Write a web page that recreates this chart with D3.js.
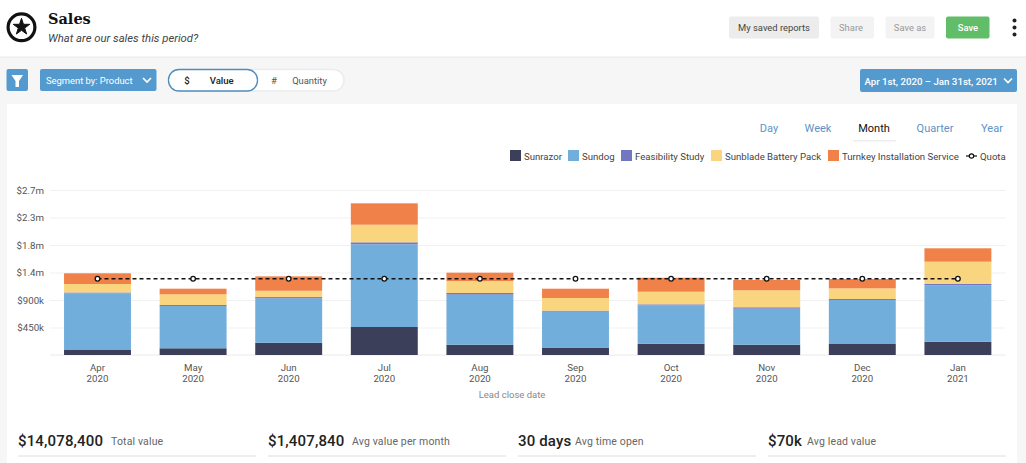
<!DOCTYPE html>
<meta charset="utf-8">
<style>
  html, body { margin: 0; padding: 0; background: #f6f6f6; overflow: hidden; }
  svg { display: block; font-family: Roboto, sans-serif; }
  .axis .domain { display: none; }
  .axis text { font-size: 9.7px; fill: #555; font-family: Roboto, sans-serif; }
</style>
<body>
<svg id="ChartArea" width="1026" height="463"></svg>
<script src="https://cdnjs.cloudflare.com/ajax/libs/d3/7.8.5/d3.min.js"></script>
<script>

  // Chart data, in $k
  var months = ["Apr", "May", "Jun", "Jul", "Aug", "Sep", "Oct", "Nov", "Dec", "Jan"];
  var years = ["2020", "2020", "2020", "2020", "2020", "2020", "2020", "2020", "2020", "2021"];
  var products = ["Sunrazor", "Sundog", "Feasibility Study", "Sunblade Battery Pack", "Turnkey Installation Service"];
  var sunrazor = [82, 110, 201, 458, 169, 115, 185, 169, 180, 218];
  var sundog = [928, 692, 726, 1353, 818, 594, 628, 589, 720, 923];
  var feasibility = [13, 16, 21, 33, 28, 16, 16, 23, 16, 21];
  var sunblade = [139, 175, 103, 288, 196, 208, 206, 278, 175, 365];
  var turnkey = [175, 92, 236, 350, 136, 152, 229, 169, 152, 219];
  var quota = [1248, 1248, 1248, 1248, 1248, 1248, 1248, 1248, 1248, 1248];
  var yTicks = [450, 900, 1350, 1800, 2250, 2700];
  var yTickLabels = ["$450k", "$900k", "$1.4m", "$1.8m", "$2.3m", "$2.7m"];
  var stats = ["$14,078,400", "$1,407,840", "30 days", "$70k"];
  var statLabels = ["Total value", "Avg value per month", "Avg time open", "Avg lead value"];
  var tabs = ["Day", "Week", "Month", "Quarter", "Year"];

  var colors = ["#3c3f5a", "#72aedb", "#7376c1", "#f8d57e", "#f08149"];
  var blue = "#559acf";

  var svg = d3.select("#ChartArea");

  function label(x, y, str, size, fill, anchor, weight, style) {
    return svg.append("text")
        .attr("x", x).attr("y", y)
        .attr("font-size", size)
        .attr("fill", fill || "#444")
        .attr("text-anchor", anchor || "start")
        .attr("font-weight", weight || 400)
        .attr("font-style", style || "normal")
        .text(str);
  }

  function box(x, y, w, h, fill, r) {
    return svg.append("rect")
        .attr("x", x).attr("y", y)
        .attr("width", w).attr("height", h)
        .attr("rx", r === undefined ? 2 : r)
        .attr("fill", fill);
  }

  function chevron(cx, cy) {
    svg.append("path")
        .attr("d", "M" + (cx - 4) + "," + (cy - 2) + "L" + cx + "," + (cy + 2) + "L" + (cx + 4) + "," + (cy - 2))
        .attr("fill", "none").attr("stroke", "#fff").attr("stroke-width", 1.7);
  }

  // Header
  box(0, 0, 1026, 56.5, "#fff", 0);
  box(0, 56.5, 1026, 1.5, "#eeeeee", 0);
  svg.append("circle").attr("cx", 21.5).attr("cy", 27.3).attr("r", 13.4)
      .attr("fill", "none").attr("stroke", "#111").attr("stroke-width", 3.2);
  svg.append("path")
      .attr("transform", "translate(21.5,27)")
      .attr("d", d3.symbol(d3.symbolStar, 85))
      .attr("fill", "#111").attr("stroke", "#111").attr("stroke-linejoin", "round");
  label(48, 24, "Sales", 14.5, "#111", "start", 700).attr("font-family", "DejaVu Serif");
  label(48, 42, "What are our sales this period?", 11.3, "#444", "start", 400, "italic");

  box(729, 16.5, 90, 22, "#ececec");
  label(774, 31, "My saved reports", 9.4, "#444", "middle");
  box(830.5, 16.5, 43.5, 22, "#f3f3f3");
  label(851, 31, "Share", 9.4, "#999", "middle");
  box(885.5, 16.5, 49, 22, "#f3f3f3");
  label(910, 31, "Save as", 9.4, "#999", "middle");
  box(946, 16.5, 43.5, 22, "#62bd69");
  label(968, 31, "Save", 9.4, "#fff", "middle", 500);
  svg.selectAll(".dot").data([20.5, 27.5, 34.5]).enter().append("circle")
      .attr("class", "dot").attr("cx", 1014.5).attr("cy", function (d) { return d; })
      .attr("r", 2).attr("fill", "#222");

  // Toolbar
  box(6.5, 69, 21.5, 22, blue);
  svg.append("path").attr("d", "M11.5,75L23,75L19,81L19,87L15.5,87L15.5,81Z").attr("fill", "#fff");
  box(40, 69, 116.5, 22, blue);
  label(46, 83.5, "Segment by: Product", 9.4, "#fff");
  chevron(147, 80);
  box(168.5, 69.5, 175.5, 21.5, "#fff", 10.5).attr("stroke", "#ececec").attr("stroke-width", 1.5);
  box(168.5, 69.5, 89, 21.5, "#fff", 10.5).attr("stroke", "#4f8dbd").attr("stroke-width", 1.3);
  label(187, 83.5, "$", 9.6, "#222", "middle", 500);
  label(221.7, 83.5, "Value", 9.6, "#222", "middle", 500);
  label(274, 83.5, "#", 9.6, "#555", "middle");
  label(309.5, 83.5, "Quantity", 9.4, "#555", "middle");
  box(860, 69, 157, 23, blue);
  label(864.5, 84.5, "Apr 1st, 2020 \u2013 Jan 31st, 2021", 9.7, "#fff", "start", 500);
  chevron(1008, 80.5);

  // Card
  box(7, 104, 1010, 359, "#fff", 0);

  var tabX = [769, 818, 874, 935, 992];
  tabs.forEach(function (t, i) {
    label(tabX[i], 132, t, 11, t === "Month" ? "#111" : "#5b94c6", "middle");
  });
  box(853, 140, 43, 1.5, "#eeeeee", 0);

  // Legend
  var legendX = [510, 568, 621, 711, 828];
  products.forEach(function (p, i) {
    box(legendX[i], 150, 11, 11, colors[i], 0);
    label(legendX[i] + 14, 159.5, p, 9.6, "#444");
  });
  svg.append("line").attr("x1", 966).attr("x2", 977).attr("y1", 156).attr("y2", 156)
      .attr("stroke", "#111").attr("stroke-width", 1.2);
  svg.append("circle").attr("cx", 971.5).attr("cy", 156).attr("r", 2.2)
      .attr("fill", "#fff").attr("stroke", "#111").attr("stroke-width", 1.2);
  label(980, 159.5, "Quota", 9.6, "#444");

  // Scales
  var x = d3.scaleBand().domain(months).range([49.7, 1005.7]).paddingInner(0.3).paddingOuter(0.15);
  var y = d3.scaleLinear().domain([0, 2700]).range([355, 190]);

  // Axes
  var yAxis = d3.axisLeft(y)
      .tickValues(yTicks)
      .tickSize(-955.5)
      .tickPadding(6)
      .tickFormat(function (d, i) { return yTickLabels[i]; });
  var yG = svg.append("g").attr("class", "axis").attr("transform", "translate(50,0)").call(yAxis);
  yG.selectAll("line").attr("stroke", "#f1f1f1");
  svg.append("line").attr("x1", 50).attr("x2", 1005.5).attr("y1", y(0)).attr("y2", y(0)).attr("stroke", "#eaeaea");

  var xAxis = d3.axisBottom(x).tickSize(0).tickPadding(8);
  var xG = svg.append("g").attr("class", "axis").attr("transform", "translate(0,355)").call(xAxis);
  xG.selectAll("text").each(function (d, i) {
    var t = d3.select(this).text(null).attr("y", 16);
    t.append("tspan").attr("x", 0).attr("dy", 0).text(d);
    t.append("tspan").attr("x", 0).attr("dy", 11).text(years[i]);
  });
  label(512, 398, "Lead close date", 9.5, "#888", "middle");

  // Stacked bars
  var rows = months.map(function (m, i) {
    return { month: m, a: sunrazor[i], b: sundog[i], c: feasibility[i], d: sunblade[i], e: turnkey[i] };
  });
  var stack = d3.stack().keys(["a", "b", "c", "d", "e"])(rows);
  svg.selectAll(".layer").data(stack).enter().append("g")
      .attr("class", "layer")
      .attr("fill", function (d, i) { return colors[i]; })
      .selectAll("rect").data(function (d) { return d; }).enter().append("rect")
      .attr("x", function (d) { return x(d.data.month); })
      .attr("width", x.bandwidth())
      .attr("y", function (d) { return y(d[1]); })
      .attr("height", function (d) { return y(d[0]) - y(d[1]); });

  // Quota
  var quotaLine = d3.line()
      .x(function (d, i) { return x(months[i]) + x.bandwidth() / 2; })
      .y(function (d) { return y(d); });
  svg.append("path").datum(quota)
      .attr("d", quotaLine)
      .attr("fill", "none").attr("stroke", "#111")
      .attr("stroke-width", 1.4).attr("stroke-dasharray", "4,3");
  svg.selectAll(".quota").data(quota).enter().append("circle")
      .attr("class", "quota")
      .attr("cx", function (d, i) { return x(months[i]) + x.bandwidth() / 2; })
      .attr("cy", function (d) { return y(d); })
      .attr("r", 2.3)
      .attr("fill", "#fff").attr("stroke", "#111").attr("stroke-width", 1.3);

  // Stats row
  var statX = [18, 268, 518, 768];
  var statGap = [111, 352, 575, 807];
  stats.forEach(function (s, i) {
    label(statX[i], 446, s, 15, "#222", "start", 500).attr("letter-spacing", 0.15);
    label(statGap[i], 445, statLabels[i], 10.5, "#666").attr("letter-spacing", 0.15);
    box(statX[i], 455, 238, 2, "#eeeeee", 0);
  });
</script>
